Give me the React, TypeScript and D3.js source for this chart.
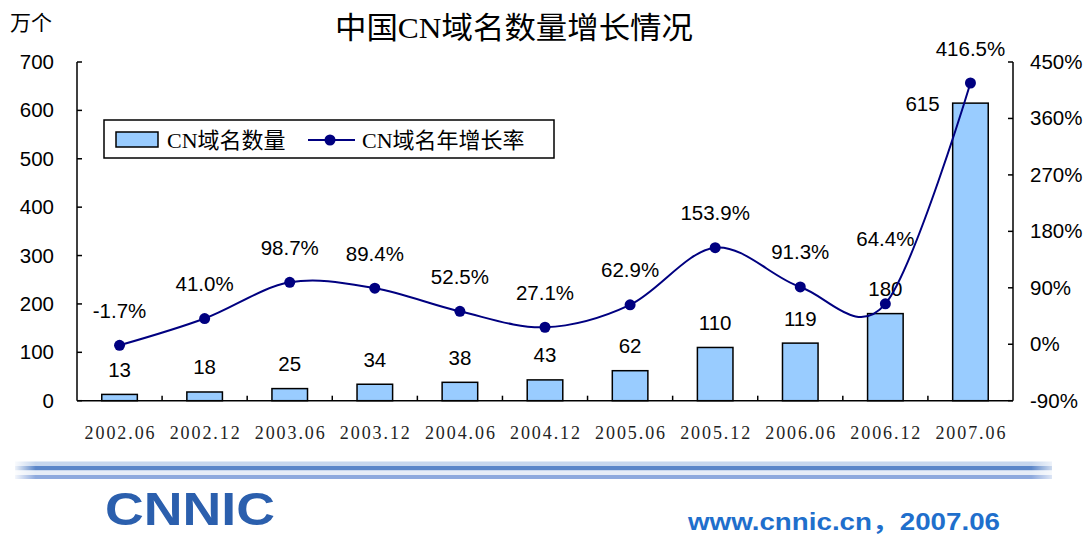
import React from "react";
import * as d3 from "d3";

const categories = ["2002.06", "2002.12", "2003.06", "2003.12", "2004.06", "2004.12", "2005.06", "2005.12", "2006.06", "2006.12", "2007.06"];
const counts = [13, 18, 25, 34, 38, 43, 62, 110, 119, 180, 615];
const rates = [-1.7, 41.0, 98.7, 89.4, 52.5, 27.1, 62.9, 153.9, 91.3, 64.4, 416.5];
const leftTicks = [0, 100, 200, 300, 400, 500, 600, 700];
const rightTicks = [-90, 0, 90, 180, 270, 360, 450];

const W = 1088;
const H = 536;
const left = 77;
const right = 1013;
const top = 62;
const bottom = 400.7;

const SANS = "'Liberation Sans', Arial, sans-serif";
const SERIF = "'Liberation Serif', 'Noto Sans CJK SC', serif";

export default function App() {
  const x = d3.scaleBand<string>().domain(categories).range([left, right]).paddingInner(0.582).paddingOuter(0.291);
  const step = x.step();
  const bw = x.bandwidth();
  const yL = d3.scaleLinear().domain([0, 700]).range([bottom, top]);
  const yR = d3.scaleLinear().domain([-90, 450]).range([bottom, top]);
  const cx = (c: string) => (x(c) as number) + bw / 2;

  const pts: [number, number][] = categories.map((c, i) => [cx(c), yR(rates[i])]);
  const line = d3.line<[number, number]>().x((d) => d[0]).y((d) => d[1]).curve(d3.curveCardinal.tension(0));
  const pathD = line(pts) || "";

  const boundaries = d3.range(categories.length + 1).map((i) => left + i * step);

  return (
    <svg width={W} height={H} style={{ position: "absolute", left: 0, top: 0, background: "#fff" }}>
      <defs>
        <linearGradient id="fade" x1="0" x2="1" y1="0" y2="0">
          <stop offset="0" stopColor="#fff" stopOpacity="0.9" />
          <stop offset="0.02" stopColor="#fff" stopOpacity="0" />
          <stop offset="0.98" stopColor="#fff" stopOpacity="0" />
          <stop offset="1" stopColor="#fff" stopOpacity="0.7" />
        </linearGradient>
      </defs>
      <rect x={0} y={0} width={W} height={H} fill="#fff" />

      {/* title */}
      <text x={335} y={38} fontFamily={SERIF} fontSize={30} fill="#000" textLength={358} lengthAdjust="spacingAndGlyphs">
        中国CN域名数量增长情况
      </text>
      <text x={10} y={30} fontFamily={SERIF} fontSize={21} fill="#000">
        万个
      </text>

      {/* bars */}
      {categories.map((c, i) => (
        <rect key={c} x={x(c)} y={yL(counts[i])} width={bw} height={bottom - yL(counts[i])} fill="#99ccff" stroke="#000" strokeWidth={1.5} />
      ))}

      {/* axes */}
      <line x1={left} x2={left} y1={top} y2={bottom} stroke="#000" strokeWidth={1.5} />
      <line x1={right} x2={right} y1={top} y2={bottom} stroke="#000" strokeWidth={1.5} />
      <line x1={left} x2={right} y1={bottom} y2={bottom} stroke="#000" strokeWidth={1.5} />
      {leftTicks.map((t) => (
        <g key={"l" + t}>
          <line x1={left} x2={left + 5} y1={yL(t)} y2={yL(t)} stroke="#000" strokeWidth={1.5} />
          <text x={54} y={yL(t) + 7} textAnchor="end" fontFamily={SANS} fontSize={20.5} fill="#000">
            {t}
          </text>
        </g>
      ))}
      {rightTicks.map((t) => (
        <g key={"r" + t}>
          <line x1={right - 5} x2={right} y1={yR(t)} y2={yR(t)} stroke="#000" strokeWidth={1.5} />
          <text x={1030} y={yR(t) + 7} textAnchor="start" fontFamily={SANS} fontSize={20.5} fill="#000">
            {t + "%"}
          </text>
        </g>
      ))}
      {boundaries.slice(1, -1).map((b, i) => (
        <line key={"b" + i} x1={b} x2={b} y1={bottom} y2={bottom - 5} stroke="#000" strokeWidth={1.5} />
      ))}
      {categories.map((c) => (
        <text key={"xl" + c} x={cx(c)} y={439} textAnchor="middle" fontFamily={SERIF} fontSize={18} fill="#222" textLength={70} lengthAdjust="spacing">
          {c}
        </text>
      ))}

      {/* bar labels */}
      {categories.map((c, i) => {
        const last = i === categories.length - 1;
        const yc = last ? yL(counts[i]) : yL(counts[i]) - 25;
        return (
          <text key={"bl" + c} x={last ? (x(c) as number) - 13 : cx(c)} y={yc + 7.5} textAnchor={last ? "end" : "middle"} fontFamily={SANS} fontSize={20.5} fill="#000">
            {counts[i]}
          </text>
        );
      })}

      {/* line */}
      <path d={pathD} fill="none" stroke="#000080" strokeWidth={2} />
      {pts.map((p, i) => (
        <circle key={"pt" + i} cx={p[0]} cy={p[1]} r={5.5} fill="#000080" />
      ))}
      {categories.map((c, i) => {
        const barLabelC = i === categories.length - 1 ? 1000 : yL(counts[i]) - 25;
        const yc = Math.min(yR(rates[i]) - 35, barLabelC - 50);
        return (
          <text key={"rl" + c} x={cx(c)} y={yc + 7.5} textAnchor="middle" fontFamily={SANS} fontSize={20.5} fill="#000">
            {rates[i].toFixed(1) + "%"}
          </text>
        );
      })}

      {/* legend */}
      <rect x={104} y={120} width={450} height={38} fill="#fff" stroke="#000" strokeWidth={1.5} />
      <rect x={116} y={132} width={42} height={15} fill="#99ccff" stroke="#000" strokeWidth={1.5} />
      <text x={167} y={148} fontFamily={SERIF} fontSize={22} fill="#000">
        CN域名数量
      </text>
      <line x1={308} x2={355} y1={140} y2={140} stroke="#000080" strokeWidth={2} />
      <circle cx={330} cy={140} r={5.5} fill="#000080" />
      <text x={362} y={148} fontFamily={SERIF} fontSize={22} fill="#000">
        CN域名年增长率
      </text>

      {/* decorative lines */}
      <rect x={15} y={461.5} width={1037} height={4.5} fill="#c6d6ee" />
      <rect x={15} y={466} width={1037} height={4.5} fill="#5b86c9" />
      <rect x={15} y={470.5} width={1037} height={4.5} fill="#e6edf7" />
      <rect x={15} y={475} width={1037} height={4} fill="#8eaade" />
      <rect x={15} y={461} width={1037} height={19} fill="url(#fade)" />

      {/* footer */}
      <text x={105} y={525} fontFamily={SANS} fontWeight="bold" fontSize={46} fill="#2b5fad" textLength={170} lengthAdjust="spacingAndGlyphs">
        CNNIC
      </text>
      <text x={688} y={530} fontFamily={"'Liberation Sans', Arial, 'Noto Sans CJK SC', sans-serif"} fontWeight="bold" fontSize={23} fill="#1f6fcc" textLength={312} lengthAdjust="spacingAndGlyphs">
        www.cnnic.cn，2007.06
      </text>
    </svg>
  );
}
